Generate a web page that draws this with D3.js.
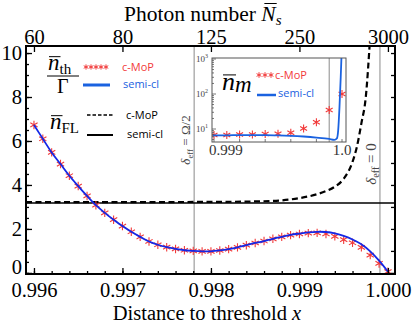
<!DOCTYPE html>
<html>
<head>
<meta charset="utf-8">
<script src="https://cdn.jsdelivr.net/npm/d3@7"></script>
<style>
body { margin: 0; background: #fff; }
</style>
</head>
<body>
<div id="chart"></div>
<script>
// main panel: distance to threshold x
const xGrid = [0.9960, 0.9961, 0.9962, 0.9963, 0.9964, 0.9965, 0.9966, 0.9967, 0.9968, 0.9969,
    0.9970, 0.9971, 0.9972, 0.9973, 0.9974, 0.9975, 0.9976, 0.9977, 0.9978, 0.9979,
    0.9980, 0.9981, 0.9982, 0.9983, 0.9984, 0.9985, 0.9986, 0.9987, 0.9988, 0.9989,
    0.9990, 0.9991, 0.9992, 0.9993, 0.9994, 0.9995, 0.9996, 0.9997, 0.9998, 0.9999, 1.0000];
const thCmop = [6.73, 6.10, 5.48, 4.95, 4.42, 3.95, 3.50, 3.08, 2.73, 2.42,
    2.13, 1.87, 1.64, 1.43, 1.28, 1.17, 1.09, 1.03, 1.00, 0.98,
    0.98, 1.02, 1.08, 1.16, 1.26, 1.36, 1.45, 1.55, 1.64, 1.72,
    1.77, 1.81, 1.82, 1.77, 1.66, 1.51, 1.37, 1.16, 0.81, 0.43, 0.06];
const thSemi = [6.73, 6.10, 5.48, 4.95, 4.42, 3.95, 3.50, 3.08, 2.73, 2.42,
    2.13, 1.87, 1.64, 1.43, 1.28, 1.17, 1.09, 1.03, 1.00, 0.98,
    0.98, 1.02, 1.08, 1.16, 1.26, 1.36, 1.45, 1.55, 1.64, 1.73,
    1.79, 1.84, 1.87, 1.86, 1.80, 1.68, 1.52, 1.30, 0.98, 0.56, 0.06];
const flCmopX = [0.99591, 0.9970, 0.9980, 0.9985, 0.9988, 0.9990, 0.9992, 0.9993, 0.9994,
    0.9995, 0.9996, 0.99965, 0.9997, 0.99975, 0.9998];
const flCmop = [3.22, 3.22, 3.23, 3.25, 3.30, 3.40, 3.58, 3.72, 3.92,
    4.28, 5.05, 5.75, 6.80, 8.00, 10.8];
const flSemiX = [0.99591, 1.00008];
const flSemi = [3.18, 3.18];
const deltaLines = [0.99781, 0.99991];

const bottomTicks = [0.996, 0.997, 0.998, 0.999, 1.000];
const bottomLabels = ["0.996", "0.997", "0.998", "0.999", "1.000"];
const topLabels = ["60", "80", "125", "250", "3000"];
const leftTicks = [0, 2, 4, 6, 8, 10];

// inset: n_m on log scale
const insetX = [0.9990, 0.9991, 0.9992, 0.9993, 0.9994, 0.9995, 0.9996, 0.9997, 0.9998, 0.9999, 1.0000];
const nmCmop = [6.7, 6.7, 7.0, 7.0, 7.2, 7.3, 7.8, 10.3, 15.5, 35, 100];
const nmSemiX = [0.99899, 0.9991, 0.9992, 0.9993, 0.9994, 0.9995, 0.9996, 0.9997, 0.9998, 0.9999,
    0.99994, 0.99996, 0.99997, 0.99998, 0.99999, 1.0000];
const nmSemi = [6.6, 6.6, 6.7, 6.7, 6.7, 6.6, 6.4, 6.1, 5.7, 5.2, 4.9, 5.4, 9, 40, 300, 3000];
const insetMarker = 0.9999;

const red = "#f23a3a", blue = "#1428e6", legendBlue = "#1a62e0";

const svg = d3.select("#chart").append("svg")
    .attr("width", 415)
    .attr("height", 324)
    .style("font-family", "'Liberation Serif', serif");

const plot = {left: 26, right: 395, top: 46, bottom: 274};
const x = d3.scaleLinear().domain([0.99591, 1.00008]).range([plot.left, plot.right]);
const y = d3.scaleLinear().domain([-0.05, 10.32]).range([plot.bottom, plot.top]);

svg.append("clipPath").attr("id", "clipMain").append("rect")
    .attr("x", plot.left).attr("y", plot.top)
    .attr("width", plot.right - plot.left).attr("height", plot.bottom - plot.top);

let starPath = r => [90, 30, 150].map(a => {
    let dx = r * Math.cos(a * Math.PI / 180), dy = r * Math.sin(a * Math.PI / 180);
    return `M${-dx},${-dy}L${dx},${dy}`;
}).join("");

let main = svg.append("g").attr("clip-path", "url(#clipMain)");

main.selectAll("line.delta").data(deltaLines).enter().append("line")
    .attr("x1", d => x(d)).attr("x2", d => x(d))
    .attr("y1", plot.top).attr("y2", plot.bottom)
    .attr("stroke", "#8a8a8a").attr("stroke-width", 1);

let line = (xs, ys, sx, sy) => d3.line().x((d, i) => sx(xs[i])).y(d => sy(d))(ys);

main.append("path")
    .attr("d", line(flSemiX, flSemi, x, y))
    .attr("fill", "none").attr("stroke", "#000").attr("stroke-width", 1.6);
main.append("path")
    .attr("d", d3.line().curve(d3.curveMonotoneX).x((d, i) => x(flCmopX[i])).y(d => y(d))(flCmop))
    .attr("fill", "none").attr("stroke", "#000").attr("stroke-width", 2.2)
    .attr("stroke-dasharray", "6,3.5");

main.selectAll("path.star").data(thCmop).enter().append("path")
    .attr("transform", (d, i) => `translate(${x(xGrid[i])},${y(d)})`)
    .attr("d", starPath(4.2))
    .attr("stroke", red).attr("stroke-width", 1.1).attr("fill", "none");

main.append("path")
    .attr("d", d3.line().curve(d3.curveCatmullRom).x((d, i) => x(xGrid[i])).y(d => y(d))(thSemi))
    .attr("fill", "none").attr("stroke", blue).attr("stroke-width", 1.8);

// axes, ticks pointing inwards
let styleAxis = g => {
    g.select(".domain").remove();
    g.selectAll("line").attr("stroke", "#000").attr("stroke-width", 1.3);
    g.selectAll("text").style("font-size", "20.5px").attr("fill", "#000")
        .style("font-family", "'Liberation Serif', serif");
};
let minorX = d3.range(0.9960, 1.00005, 0.0002);
let minorY = d3.range(0, 10.01, 0.5);

svg.append("g").attr("transform", `translate(0,${plot.bottom})`)
    .call(d3.axisBottom(x).tickValues(minorX).tickSize(-3).tickFormat(""))
    .call(styleAxis);
svg.append("g").attr("transform", `translate(0,${plot.bottom})`)
    .call(d3.axisBottom(x).tickValues(bottomTicks).tickSize(-6).tickPadding(6)
        .tickFormat((d, i) => bottomLabels[i]))
    .call(styleAxis)
    .selectAll("text").attr("y", 23).attr("dy", 0);

svg.append("g").attr("transform", `translate(0,${plot.top})`)
    .call(d3.axisTop(x).tickValues(bottomTicks).tickSize(-6)
        .tickFormat((d, i) => topLabels[i]))
    .call(styleAxis)
    .selectAll("text").attr("y", -2).attr("dy", 0);

svg.append("g").attr("transform", `translate(${plot.left},0)`)
    .call(d3.axisLeft(y).tickValues(minorY).tickSize(-3).tickFormat(""))
    .call(styleAxis);
svg.append("g").attr("transform", `translate(${plot.left},0)`)
    .call(d3.axisLeft(y).tickValues(leftTicks).tickSize(-6).tickFormat(d3.format("d")))
    .call(styleAxis)
    .selectAll("text").attr("x", -4).attr("dy", d => d === 0 ? "0.05em" : "0.32em");

svg.append("g").attr("transform", `translate(${plot.right},0)`)
    .call(d3.axisRight(y).tickValues(d3.range(0, 10.01, 1)).tickSize(-4).tickFormat(""))
    .call(styleAxis);

svg.append("rect")
    .attr("x", plot.left).attr("y", plot.top)
    .attr("width", plot.right - plot.left).attr("height", plot.bottom - plot.top)
    .attr("fill", "none").attr("stroke", "#000").attr("stroke-width", 2);

// axis titles
let topTitle = svg.append("text").attr("x", 124).attr("y", 21).style("font-size", "21.5px");
let tA = topTitle.append("tspan").text("Photon number ");
let tN = topTitle.append("tspan").style("font-style", "italic").text("N");
topTitle.append("tspan").style("font-style", "italic").style("font-size", "15px").attr("dy", 4).text("s");
let nOff = tA.node().getComputedTextLength(), nW = tN.node().getComputedTextLength();
svg.append("line").attr("x1", 124 + nOff + 3).attr("x2", 124 + nOff + nW + 1)
    .attr("y1", 3.5).attr("y2", 3.5).attr("stroke", "#000").attr("stroke-width", 1);

let botTitle = svg.append("text").attr("x", 207).attr("y", 320)
    .attr("text-anchor", "middle").style("font-size", "20.5px");
botTitle.append("tspan").text("Distance to threshold ");
botTitle.append("tspan").style("font-style", "italic").text("x");

// delta_eff labels
let deltaLabel = (px, py, size, rest) => {
    let t = svg.append("text").attr("transform", `translate(${px},${py}) rotate(-90)`)
        .attr("text-anchor", "middle").attr("fill", "#444").style("font-size", size + "px");
    t.append("tspan").style("font-style", "italic").text("δ");
    t.append("tspan").style("font-size", (size * 0.68) + "px").attr("dy", 3).text("eff");
    t.append("tspan").attr("dy", -3).text(" = " + rest);
};
deltaLabel(190, 140, 13, "Ω/2");
deltaLabel(376, 164, 15, "0");

// legend of the main panel
let mathN = (px, py, size, sub, subSize, subDy, subItalic) => {
    let t = svg.append("text").attr("x", px).attr("y", py).style("font-size", size + "px");
    let n = t.append("tspan").style("font-style", "italic").text("n");
    t.append("tspan").attr("dy", subDy).style("font-size", subSize + "px")
        .style("font-style", subItalic ? "italic" : "normal").text(sub);
    let w = n.node().getComputedTextLength();
    svg.append("line").attr("x1", px + 1).attr("x2", px + w + 1)
        .attr("y1", py - size * 0.58).attr("y2", py - size * 0.58)
        .attr("stroke", "#000").attr("stroke-width", 1);
};
mathN(48, 70, 23, "th", 15, 4, false);
svg.append("line").attr("x1", 47).attr("x2", 79).attr("y1", 76).attr("y2", 76)
    .attr("stroke", "#000").attr("stroke-width", 1);
svg.append("text").attr("x", 57).attr("y", 93).style("font-size", "20px").text("Γ");
mathN(50, 129, 23, "FL", 15, 4, false);

let legendFont = "'Open Sans', sans-serif";
let legendText = (px, py, txt, color) => svg.append("text").attr("x", px).attr("y", py)
    .style("font-family", legendFont).style("font-size", "11px").attr("fill", color).text(txt);

svg.selectAll("path.lstar").data([86, 91, 96, 101, 106]).enter().append("path")
    .attr("transform", d => `translate(${d},67)`)
    .attr("d", starPath(2.6)).attr("stroke", red).attr("stroke-width", 1).attr("fill", "none");
legendText(122, 71, "c-MoP", red);
svg.append("line").attr("x1", 83).attr("x2", 110).attr("y1", 85).attr("y2", 85)
    .attr("stroke", legendBlue).attr("stroke-width", 3);
legendText(123, 88, "semi-cl", legendBlue);
svg.append("line").attr("x1", 87).attr("x2", 113).attr("y1", 115).attr("y2", 115)
    .attr("stroke", "#000").attr("stroke-width", 1.3).attr("stroke-dasharray", "3.5,2");
legendText(126, 119, "c-MoP", "#000");
svg.append("line").attr("x1", 87).attr("x2", 113).attr("y1", 135).attr("y2", 135)
    .attr("stroke", "#000").attr("stroke-width", 2);
legendText(127, 138, "semi-cl", "#000");

// inset
const ins = {left: 212, right: 346, top: 58, bottom: 142};
const xi = d3.scaleLinear().domain([0.9990, 1.0000]).range([214, 342]);
const yi = d3.scaleLog().domain([10, 1000]).range([129, 59]);

svg.append("rect").attr("x", ins.left).attr("y", ins.top)
    .attr("width", ins.right - ins.left).attr("height", ins.bottom - ins.top)
    .attr("fill", "#fff");
svg.append("clipPath").attr("id", "clipInset").append("rect")
    .attr("x", ins.left).attr("y", ins.top)
    .attr("width", ins.right - ins.left).attr("height", ins.bottom - ins.top);
let inset = svg.append("g").attr("clip-path", "url(#clipInset)");

inset.append("line").attr("x1", xi(insetMarker)).attr("x2", xi(insetMarker))
    .attr("y1", ins.top).attr("y2", ins.bottom).attr("stroke", "#8a8a8a").attr("stroke-width", 1);
inset.selectAll("path.istar").data(nmCmop).enter().append("path")
    .attr("transform", (d, i) => `translate(${xi(insetX[i])},${yi(d)})`)
    .attr("d", starPath(4)).attr("stroke", red).attr("stroke-width", 1.1).attr("fill", "none");
inset.append("path")
    .attr("d", d3.line().curve(d3.curveMonotoneX).x((d, i) => xi(nmSemiX[i])).y(d => yi(d))(nmSemi))
    .attr("fill", "none").attr("stroke", legendBlue).attr("stroke-width", 1.8);

let insetTicks = svg.append("g").attr("stroke", "#555").attr("stroke-width", 0.8);
d3.range(0.9990, 1.00005, 0.0002).forEach(v => {
    insetTicks.append("line").attr("x1", xi(v)).attr("x2", xi(v))
        .attr("y1", ins.bottom).attr("y2", ins.bottom - 3);
});
[10, 100, 1000].forEach(v => {
    insetTicks.append("line").attr("x1", ins.left).attr("x2", ins.left + 4)
        .attr("y1", yi(v)).attr("y2", yi(v));
});
[5, 6, 7, 8, 9, 20, 30, 40, 50, 60, 70, 80, 90, 200, 300, 400, 500, 600, 700, 800, 900].forEach(v => {
    insetTicks.append("line").attr("x1", ins.left).attr("x2", ins.left + 2)
        .attr("y1", yi(v)).attr("y2", yi(v));
});
svg.append("rect").attr("x", ins.left).attr("y", ins.top)
    .attr("width", ins.right - ins.left).attr("height", ins.bottom - ins.top)
    .attr("fill", "none").attr("stroke", "#555").attr("stroke-width", 1);

svg.selectAll("text.ilab").data([1, 2, 3]).enter().append("text")
    .attr("x", 196).attr("y", d => yi(Math.pow(10, d)) + 3)
    .attr("fill", "#444").style("font-size", "9px")
    .each(function (d) {
        d3.select(this).append("tspan").text("10");
        d3.select(this).append("tspan").attr("dy", -4).style("font-size", "6px").text(d);
    });
svg.append("text").attr("x", 209).attr("y", 155).attr("fill", "#333")
    .style("font-size", "15px").text("0.999");
svg.append("text").attr("x", xi(1.0)).attr("y", 155).attr("text-anchor", "middle").attr("fill", "#333")
    .style("font-size", "15px").text("1.0");

mathN(222, 90, 26, "m", 23, 2, true);
svg.selectAll("path.ilstar").data([259, 265, 271]).enter().append("path")
    .attr("transform", d => `translate(${d},75)`)
    .attr("d", starPath(2.8)).attr("stroke", red).attr("stroke-width", 1).attr("fill", "none");
legendText(275, 79, "c-MoP", red);
svg.append("line").attr("x1", 257).attr("x2", 276).attr("y1", 95).attr("y2", 95)
    .attr("stroke", legendBlue).attr("stroke-width", 2.5);
legendText(278, 97, "semi-cl", legendBlue);
</script>
</body>
</html>
